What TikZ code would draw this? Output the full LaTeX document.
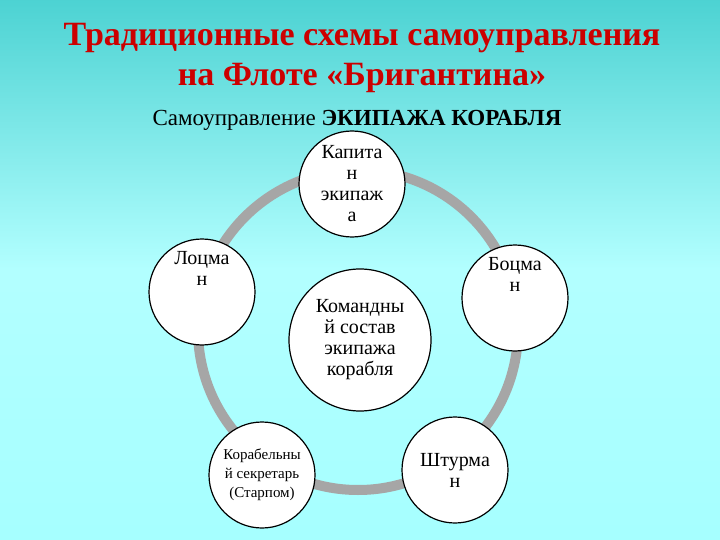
\documentclass[tikz,border=0pt]{standalone}
\usepackage{fontspec}
\setmainfont{Liberation Serif}
\begin{document}
\begin{tikzpicture}[x=1pt,y=-1pt,
  circ/.style={circle,draw=black,line width=1.2pt,fill=white,minimum size=106pt,inner sep=0pt,align=center,font=\fontsize{20}{21}\selectfont},
  ttl/.style={font=\fontsize{34}{36}\selectfont\bfseries,text=red!80!black}]
\shade[top color=cyan!50!teal!70, bottom color=cyan!35!white, middle color=cyan!30!white] (0,0) rectangle (720,540);
\useasboundingbox (0,0) rectangle (720,540);
\draw[line width=10pt,gray!70] (358,330) circle (160);
\node[ttl] (t1) at (362,38) {Традиционные схемы самоуправления};
\node[ttl] (t2) at (362,78) {на Флоте «Бригантина»};
\node[font=\fontsize{23}{25}\selectfont] (t3) at (357,120) {Самоуправление \textbf{ЭКИПАЖА КОРАБЛЯ}};
\node[circ] (cap) at (352,184) {Капита\\н\\экипаж\\а};
\node[circ] (loc) at (202,292) {Лоцма\\н\\[26pt]};
\node[circ] (boc) at (515,298) {Боцма\\н\\[26pt]};
\node[circ,font=\fontsize{15}{19}\selectfont] (sec) at (262,475) {Корабельны\\й секретарь\\(Старпом)};
\node[circ] (sht) at (455,470) {Штурма\\н};
\node[circ,minimum size=142pt] (crew) at (360,340) {Командны\\й состав\\экипажа\\корабля};
\end{tikzpicture}
\end{document}
